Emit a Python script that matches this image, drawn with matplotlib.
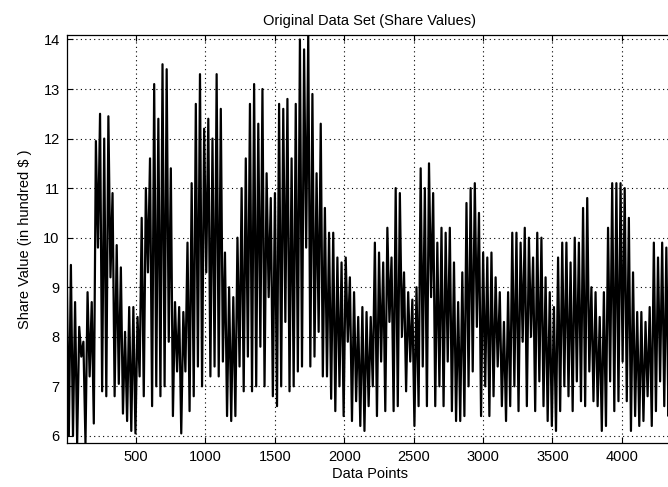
import numpy as np
import matplotlib
matplotlib.use("Agg")
import matplotlib.pyplot as plt

# peak / trough of each oscillation (one pair per ~30 points)
peaks = [9.3, 9.45, 8.7, 8.2, 7.9, 8.9, 8.7, 11.95, 12.5, 12.0,
         12.45, 10.9, 9.85, 9.4, 8.1, 8.6, 8.6, 8.4, 10.4, 11.0,
         11.6, 13.1, 12.4, 13.5, 13.4, 11.4, 8.7, 8.6, 8.5, 9.9,
         11.1, 12.7, 13.3, 12.2, 12.4, 12.0, 13.3, 12.6, 9.7, 9.0,
         8.8, 10.0, 11.0, 11.6, 12.7, 13.1, 12.3, 13.0, 11.3, 10.8,
         10.9, 12.7, 12.6, 12.8, 11.6, 12.7, 14.0, 13.8, 14.1, 12.9,
         11.3, 12.3, 10.6, 10.1, 10.1, 9.6, 9.5, 9.6, 9.2, 8.9,
         8.4, 8.6, 8.5, 8.4, 9.9, 9.7, 9.5, 10.2, 9.6, 11.0,
         10.9, 9.3, 8.9, 8.75, 9.0, 11.4, 11.0, 11.5, 10.9, 9.9,
         10.2, 10.1, 10.2, 9.5, 8.7, 9.3, 10.7, 11.0, 11.1, 10.5,
         9.7, 9.6, 9.7, 9.2, 8.9, 8.3, 8.9, 10.1, 10.1, 9.9,
         10.2, 10.0, 9.6, 10.1, 10.0, 9.2, 8.9, 8.6, 9.6, 9.9,
         9.9, 9.5, 10.0, 9.9, 10.6, 10.8, 9.0, 8.9, 8.4, 8.9,
         10.2, 11.1, 11.1, 11.1, 11.0, 10.4, 9.3, 8.5, 8.5, 8.3,
         8.6, 9.9, 9.6, 9.9, 9.8, 9.0]
troughs = [6.0, 6.0, 5.85, 7.6, 5.85, 7.2, 6.25, 9.8, 6.9, 6.8,
           9.2, 6.8, 7.05, 6.45, 6.3, 6.1, 6.05, 7.2, 6.8, 9.3,
           6.6, 7.0, 6.8, 7.0, 7.9, 6.4, 7.3, 6.05, 7.3, 6.5,
           6.8, 7.4, 7.0, 9.3, 7.2, 7.4, 7.2, 7.5, 6.4, 6.3,
           6.4, 7.4, 6.9, 7.6, 6.9, 7.0, 7.8, 7.0, 8.8, 6.8,
           6.6, 7.0, 8.3, 6.9, 7.0, 7.3, 7.4, 9.8, 7.4, 7.6,
           8.1, 7.2, 7.2, 6.75, 6.5, 7.0, 6.4, 7.9, 6.3, 6.7,
           6.2, 6.1, 6.6, 7.0, 6.4, 7.5, 6.5, 8.3, 6.5, 6.6,
           8.0, 6.9, 7.5, 6.2, 6.6, 7.4, 6.6, 8.8, 6.6, 7.0,
           6.6, 7.5, 6.5, 6.3, 6.3, 6.4, 7.0, 7.3, 8.2, 6.4,
           7.0, 6.4, 6.8, 7.4, 6.6, 6.3, 6.6, 7.0, 6.5, 7.9,
           6.6, 8.0, 6.5, 7.1, 6.6, 6.3, 6.2, 6.1, 6.5, 7.0,
           6.8, 6.5, 7.1, 6.7, 6.6, 7.3, 6.7, 6.6, 6.1, 6.2,
           7.1, 6.5, 6.7, 7.5, 6.7, 6.1, 6.4, 6.2, 6.3, 6.8,
           6.2, 6.5, 7.1, 6.6, 6.4, 7.0]
half_cycle = 15  # data points between a peak and the next trough

values = np.column_stack([peaks, troughs]).ravel()
idx = 1 + half_cycle * np.arange(len(values))

x_ticks = [500, 1000, 1500, 2000, 2500, 3000, 3500, 4000]
y_ticks = [6, 7, 8, 9, 10, 11, 12, 13, 14]

plt.rcParams['font.family'] = ['Liberation Sans', 'DejaVu Sans']
fig = plt.figure(figsize=(6.68, 4.87), dpi=100)
ax = fig.add_axes([0.0997, 0.0897, 0.908, 0.8384])

ax.plot(idx, values, color='black', linewidth=1.6)

ax.set_xlim(0, 4370)
ax.set_ylim(5.85, 14.09)
ax.set_xticks(x_ticks)
ax.set_yticks(y_ticks)
ax.grid(True, color='black', linestyle=(0, (1, 3)), linewidth=0.8)
ax.tick_params(direction='in', length=4, top=True, right=True, labelsize=10.5, pad=5)
for s in ax.spines.values():
    s.set_linewidth(0.9)

ax.set_title('Original Data Set (Share Values)', fontsize=10.5, pad=7)
ax.set_xlabel('Data Points', fontsize=10.5, labelpad=2)
ax.set_ylabel('Share Value (in hundred $ )', fontsize=10.5, labelpad=8)

fig.savefig('out.png', dpi=100)
